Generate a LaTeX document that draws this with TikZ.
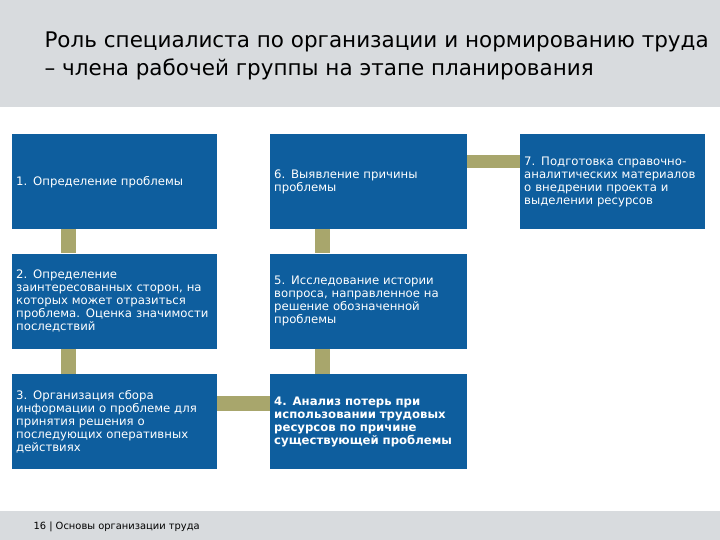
\documentclass[tikz,border=0pt]{standalone}
\usepackage{fontspec}
\setmainfont{DejaVu Sans}
\definecolor{stepblue}{RGB}{14, 94, 158}
\definecolor{linkolive}{RGB}{168, 166, 108}
\definecolor{bandgray}{RGB}{216, 219, 222}
\usetikzlibrary{positioning, calc}

\begin{document}
\begin{tikzpicture}[x=1pt, y=-1pt,
    stepbox/.style={fill=stepblue, text=white, align=left, anchor=north west,
      inner xsep=4pt, inner ysep=0pt, minimum height=95pt,
      font=\fontsize{11.7}{13}\selectfont},
    link/.style={draw=linkolive, line width=15pt}]
  % page bands
  \useasboundingbox (0,0) rectangle (720,540);
  \fill[bandgray] (0,0) rectangle (720,107);
  \fill[bandgray] (0,511) rectangle (720,540);
  \node[anchor=west, align=left, font=\fontsize{21.5}{28}\selectfont] (title) at (41,56)
    {Роль специалиста по организации и нормированию труда\\
     – члена рабочей группы на этапе планирования};
  \node[anchor=west, font=\fontsize{9.9}{11}\selectfont] (footer) at (30,527)
    {16 | Основы организации труда};

  % left column
  \node[stepbox, text width=197pt] (s1) at (12,134) {1. Определение проблемы};
  \node[stepbox, text width=197pt, below=24pt of s1.south west, anchor=north west] (s2)
    {2. Определение\\заинтересованных сторон, на\\которых может отразиться\\проблема. Оценка значимости\\последствий};
  \node[stepbox, text width=197pt, below=25pt of s2.south west, anchor=north west] (s3)
    {3. Организация сбора\\информации о проблеме для\\принятия решения о\\последующих оперативных\\действиях};

  % right column
  \node[stepbox, text width=189pt] (s6) at (270,134) {6. Выявление причины\\проблемы};
  \node[stepbox, text width=189pt, below=24pt of s6.south west, anchor=north west] (s5)
    {5. Исследование истории\\вопроса, направленное на\\решение обозначенной\\проблемы};
  \node[stepbox, text width=189pt, below=25pt of s5.south west, anchor=north west, font=\fontsize{11.7}{13}\selectfont\bfseries] (s4)
    {4. Анализ потерь при\\использовании трудовых\\ресурсов по причине\\существующей проблемы};
  \node[stepbox, text width=177pt] (s7) at (520,134)
    {7. Подготовка справочно-\\аналитических материалов\\о внедрении проекта и\\выделении ресурсов};

  % connectors
  \draw[link] ([xshift=56.5pt]s1.south west) -- ([xshift=56.5pt]s2.north west);
  \draw[link] ([xshift=56.5pt]s2.south west) -- ([xshift=56.5pt]s3.north west);
  \draw[link] ([xshift=52.5pt]s6.south west) -- ([xshift=52.5pt]s5.north west);
  \draw[link] ([xshift=52.5pt]s5.south west) -- ([xshift=52.5pt]s4.north west);
  \draw[link] ([yshift=-29.5pt]s3.north east) -- ([yshift=-29.5pt]s4.north west);
  \draw[link, line width=13pt] ([yshift=-27.5pt]s6.north east) -- ([yshift=-27.5pt]s7.north west);
\end{tikzpicture}
\end{document}
